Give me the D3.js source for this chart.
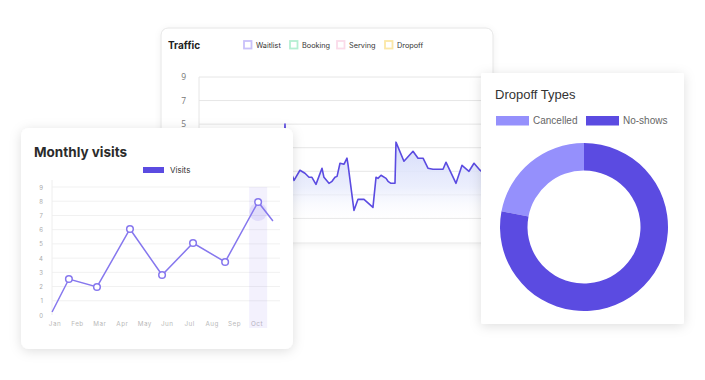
<!DOCTYPE html>
<html><head><meta charset="utf-8">
<script src="https://cdn.jsdelivr.net/npm/d3@7"></script>
<style>
html,body{margin:0;padding:0;background:#fff;}
svg{display:block;}
</style></head>
<body>
<svg id="c" width="705" height="380"></svg>
<script>
// ---------- DATA ----------
// Traffic (hour of day, value)
const trafficHours = [0,0.49,1.06,1.55,2.04,2.53,3.02,3.51,4.00,4.49,4.98,5.47,5.96,6.45,6.86,7.02,7.18,7.51,
  7.76,8.24,8.65,8.98,9.22,9.55,10.04,10.20,10.61,10.86,11.10,11.27,11.51,11.84,12.08,12.16,12.65,12.98,13.47,
  14.20,14.45,14.61,14.86,15.27,15.43,15.67,16.00,16.08,16.73,17.47,17.88,18.29,18.69,19.10,19.92,20.16,20.98,
  21.47,22.04,22.45,22.94,23.43,23.92];
const trafficValues = [0.66,1.26,0.91,1.94,1.51,0.40,1.09,2.11,1.68,0.91,1.34,0.66,1.94,1.26,0.57,5.0,0.40,0.91,
  0.23,1.09,0.83,0.49,0.49,-0.11,1.26,0.49,-0.02,0.15,0.49,0.57,1.68,1.60,2.11,1.60,-2.32,-1.38,-1.38,
  -2.06,0.49,0.40,0.66,0.40,0.15,-0.02,-0.02,3.47,1.85,2.70,2.11,2.11,1.26,1.17,1.17,1.77,-0.02,
  1.51,1.00,1.68,1.09,0.66,1.26];
const trafficGridTicks = [9,7,5,3,1,-1,-3];
const trafficTickLabels = [9,7,5];
const trafficLegend = ["Waitlist","Booking","Serving","Dropoff"];
const trafficLegendColors = ["#c9c1fa","#b5efd2","#fbdbe9","#fbe7a6"];

// Monthly visits
const months = ["Jan","Feb","Mar","Apr","May","Jun","Jul","Aug","Sep","Oct"];
const visitMonthPos = [-0.13,0.62,1.87,3.34,4.77,6.15,7.58,9.05,9.71];
const visitValues   = [0.21,2.53,1.97,6.05,2.81,5.06,3.73,7.95,6.61];
const visitTicks = [0,1,2,3,4,5,6,7,8,9];
const highlightIndex = 7;

// Dropoff types
const dropoffLabels = ["Cancelled","No-shows"];
const dropoffValues = [22,78];
const dropoffColors = ["#9590fc","#5b4be1"];

// ---------- DRAW ----------
const svg = d3.select("#c");
const defs = svg.append("defs");
const sh = defs.append("filter").attr("id","sh").attr("x","-20%").attr("y","-20%").attr("width","140%").attr("height","140%");
sh.append("feDropShadow").attr("dx",0).attr("dy",2).attr("stdDeviation",6).attr("flood-color","#000").attr("flood-opacity",0.13);
const sh2 = defs.append("filter").attr("id","sh2").attr("x","-20%").attr("y","-20%").attr("width","140%").attr("height","140%");
sh2.append("feDropShadow").attr("dx",0).attr("dy",1).attr("stdDeviation",3).attr("flood-color","#000").attr("flood-opacity",0.06);

// ===== Traffic card =====
const tc = svg.append("g");
tc.append("rect").attr("x",161).attr("y",28).attr("width",332).attr("height",215).attr("rx",7)
  .attr("fill","#fff").attr("stroke","#e6e6e6").attr("filter","url(#sh2)");
tc.append("text").attr("x",168).attr("y",49).text("Traffic")
  .attr("font-family","Inter, 'Noto Sans', sans-serif").attr("font-weight",700).attr("font-size",10).attr("fill","#222");
const tl = tc.append("g").selectAll("g").data(trafficLegend).join("g")
  .attr("transform",(d,i)=>`translate(${[244,290,337,385][i]},41)`);
tl.append("rect").attr("width",7.5).attr("height",7.5).attr("fill","#fff")
  .attr("stroke",(d,i)=>trafficLegendColors[i]).attr("stroke-width",1.8);
tl.append("text").attr("x",12).attr("y",7).text(d=>d)
  .attr("font-family","Inter, 'Noto Sans', sans-serif").attr("font-size",7.3).attr("fill","#333");

const tx = d3.scaleLinear().domain([0,24]).range([199,493]);
const ty = d3.scaleLinear().domain([-5,9]).range([242,77]);
tc.append("g").selectAll("line").data(trafficGridTicks).join("line")
  .attr("x1",199).attr("x2",492).attr("y1",d=>ty(d)).attr("y2",d=>ty(d))
  .attr("stroke","#e6e6e6").attr("stroke-width",1);
tc.append("line").attr("x1",199).attr("x2",199).attr("y1",ty(9)).attr("y2",242).attr("stroke","#e6e6e6");
tc.append("g").selectAll("text").data(trafficTickLabels).join("text")
  .attr("x",186).attr("y",d=>ty(d)+3).attr("text-anchor","end").text(d=>d)
  .attr("font-family","'Open Sans', sans-serif").attr("font-size",8.5).attr("fill","#777");

const tg = defs.append("linearGradient").attr("id","tg").attr("gradientUnits","userSpaceOnUse")
  .attr("x1",0).attr("x2",0).attr("y1",140).attr("y2",225);
tg.append("stop").attr("offset",0).attr("stop-color","#d3dafa").attr("stop-opacity",1);
tg.append("stop").attr("offset",0.55).attr("stop-color","#e6eafc").attr("stop-opacity",0.8);
tg.append("stop").attr("offset",1).attr("stop-color","#ffffff").attr("stop-opacity",0);
const tdata = trafficHours.map((h,i)=>({h,v:trafficValues[i]}));
tc.append("path").datum(tdata)
  .attr("d",d3.area().x(d=>tx(d.h)).y0(242).y1(d=>ty(d.v)))
  .attr("fill","url(#tg)");
tc.append("path").datum(tdata)
  .attr("d",d3.line().x(d=>tx(d.h)).y(d=>ty(d.v)))
  .attr("fill","none").attr("stroke","#5b4be1").attr("stroke-width",1.6).attr("stroke-linejoin","round");

// ===== Monthly visits card =====
const mc = svg.append("g");
mc.append("rect").attr("x",21).attr("y",128).attr("width",272).attr("height",221).attr("rx",8)
  .attr("fill","#fff").attr("filter","url(#sh)");
mc.append("text").attr("x",34).attr("y",157).text("Monthly visits")
  .attr("font-family","Inter, 'Noto Sans', sans-serif").attr("font-weight",700).attr("font-size",13.5).attr("fill","#2b2b2b");
mc.append("rect").attr("x",143).attr("y",167).attr("width",21).attr("height",6).attr("fill","#5b4be1");
mc.append("text").attr("x",170).attr("y",173).text("Visits")
  .attr("font-family","Inter, 'Noto Sans', sans-serif").attr("font-size",8).attr("fill","#333");

const mx = d3.scaleLinear().domain([0,9]).range([55,257]);
const my = d3.scaleLinear().domain([0,9]).range([315,187]);
mc.append("g").selectAll("line").data(visitTicks.slice(1)).join("line")
  .attr("x1",52).attr("x2",280).attr("y1",d=>my(d)).attr("y2",d=>my(d))
  .attr("stroke","#f1f1f1");
mc.append("line").attr("x1",52).attr("x2",52).attr("y1",180).attr("y2",315).attr("stroke","#eeeeee");
mc.append("g").selectAll("text").data(visitTicks).join("text")
  .attr("x",43).attr("y",d=>my(d)+2.5).attr("text-anchor","end").text(d=>d)
  .attr("font-family","Inter, sans-serif").attr("font-size",6).attr("fill","#aaa");
mc.append("g").selectAll("text").data(months).join("text")
  .attr("x",(d,i)=>mx(i)).attr("y",326).attr("text-anchor","middle").text(d=>d)
  .attr("font-family","Inter, sans-serif").attr("font-size",6.3).attr("letter-spacing",0.5).attr("fill","#b9b9b9");

const hx = mx(visitMonthPos[highlightIndex]);
mc.append("rect").attr("x",hx-9).attr("y",187).attr("width",18).attr("height",141)
  .attr("fill","#8677ee").attr("opacity",0.1);
mc.append("circle").attr("cx",hx).attr("cy",my(visitValues[highlightIndex])+10).attr("r",9)
  .attr("fill","#8677ee").attr("opacity",0.17);

const vdata = visitMonthPos.map((m,i)=>({m,v:visitValues[i]}));
mc.append("path").datum(vdata)
  .attr("d",d3.line().x(d=>mx(d.m)).y(d=>my(d.v)))
  .attr("fill","none").attr("stroke","#8677ee").attr("stroke-width",1.5);
mc.append("g").selectAll("circle").data(vdata.slice(1,-1)).join("circle")
  .attr("cx",d=>mx(d.m)).attr("cy",d=>my(d.v)).attr("r",3.3)
  .attr("fill","#fff").attr("stroke","#8677ee").attr("stroke-width",1.5);

// ===== Dropoff card =====
const dc = svg.append("g");
dc.append("rect").attr("x",481).attr("y",73).attr("width",203).attr("height",251).attr("rx",2)
  .attr("fill","#fff").attr("filter","url(#sh)");
dc.append("text").attr("x",495).attr("y",99).text("Dropoff Types")
  .attr("font-family","'Liberation Sans', Arial, sans-serif").attr("font-size",13).attr("fill","#333");
const dl = dc.append("g").selectAll("g").data(dropoffLabels).join("g")
  .attr("transform",(d,i)=>`translate(${[496,586][i]},116)`);
dl.append("rect").attr("width",33).attr("height",9.5).attr("fill",(d,i)=>dropoffColors[i]);
dl.append("text").attr("x",37).attr("y",8.3).text(d=>d)
  .attr("font-family","'Liberation Sans', Arial, sans-serif").attr("font-size",10).attr("fill","#666");

const pie = d3.pie(); // default: sorted by value descending
const arcs = pie(dropoffValues);
const arc = d3.arc().innerRadius(56.5).outerRadius(84);
dc.append("g").attr("transform","translate(584,227)")
  .selectAll("path").data(arcs).join("path")
  .attr("d",arc).attr("fill",(d,i)=>dropoffColors[i]);
</script>
</body></html>
